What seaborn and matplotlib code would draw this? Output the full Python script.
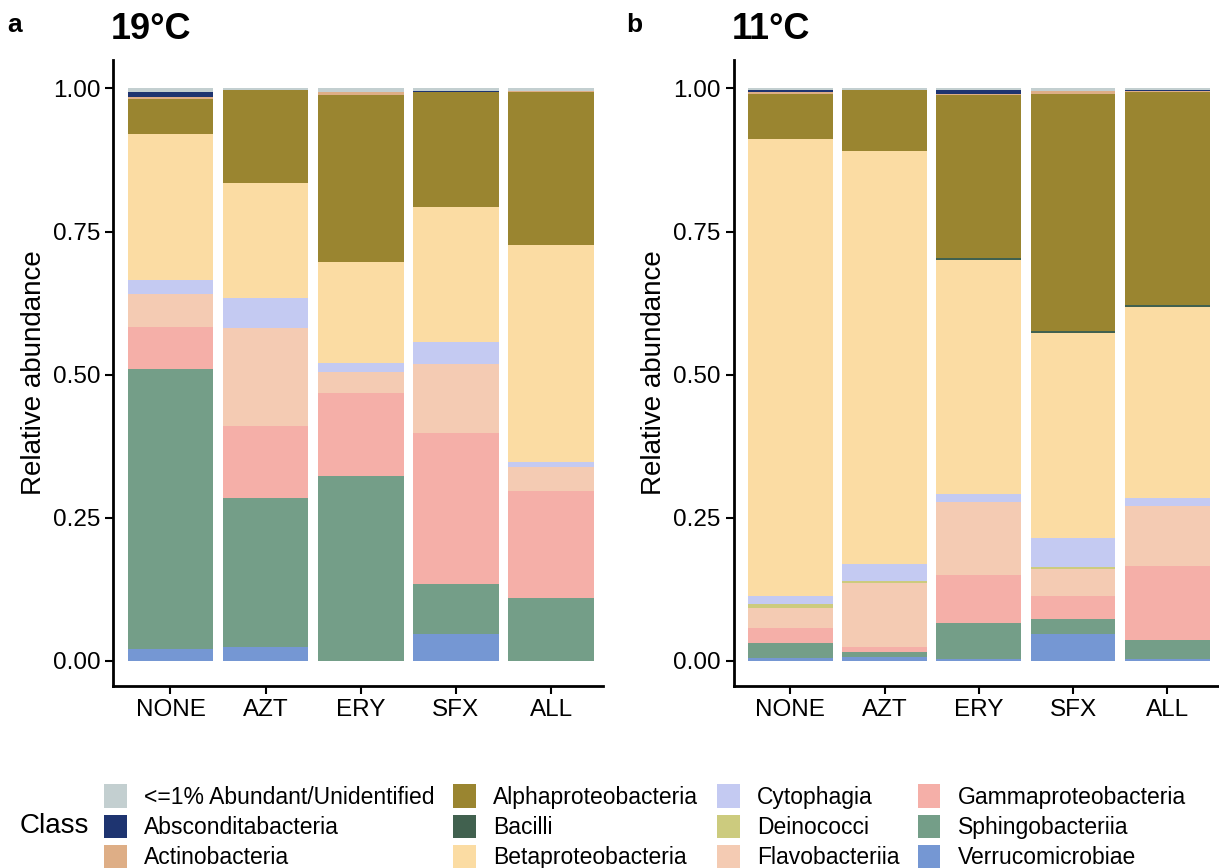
import matplotlib
matplotlib.use("Agg")
import matplotlib.pyplot as plt
from matplotlib.patches import Patch
import pandas as pd
import seaborn as sns

sns.set_theme(style="ticks")
plt.rcParams["font.family"] = ["Liberation Sans", "DejaVu Sans"]
plt.rcParams["text.color"] = "black"
plt.rcParams["axes.labelcolor"] = "black"

# treatments on the x axis
treatments = ["NONE", "AZT", "ERY", "SFX", "ALL"]

# classes, legend order (first one sits on top of each bar)
classes = ["<=1% Abundant/Unidentified", "Absconditabacteria", "Actinobacteria",
           "Alphaproteobacteria", "Bacilli", "Betaproteobacteria", "Cytophagia",
           "Deinococci", "Flavobacteriia", "Gammaproteobacteria", "Sphingobacteriia",
           "Verrucomicrobiae"]

class_colors = ["#C3CFD0", "#1E3470", "#DEAE86", "#9A8530", "#41614F", "#FBDCA3",
                "#C4CAF2", "#CCCB7E", "#F4CBB3", "#F5AFA8", "#749E88", "#7597D3"]

# relative abundance per class at 19°C (NONE, AZT, ERY, SFX, ALL)
warm_unident = [0.006, 0.003, 0.007, 0.004, 0.004]
warm_abscond = [0.009, 0.000, 0.000, 0.002, 0.000]
warm_actino = [0.003, 0.000, 0.005, 0.000, 0.003]
warm_alpha = [0.062, 0.162, 0.291, 0.202, 0.266]
warm_bacilli = [0.000, 0.000, 0.000, 0.000, 0.000]
warm_beta = [0.255, 0.202, 0.177, 0.236, 0.380]
warm_cyto = [0.024, 0.051, 0.015, 0.038, 0.009]
warm_deino = [0.000, 0.000, 0.000, 0.000, 0.000]
warm_flavo = [0.058, 0.172, 0.038, 0.121, 0.041]
warm_gamma = [0.073, 0.125, 0.145, 0.264, 0.187]
warm_sphingo = [0.489, 0.262, 0.322, 0.086, 0.110]
warm_verruco = [0.021, 0.023, 0.000, 0.047, 0.000]

# relative abundance per class at 11°C
cold_unident = [0.002, 0.002, 0.003, 0.004, 0.003]
cold_abscond = [0.005, 0.000, 0.006, 0.001, 0.002]
cold_actino = [0.002, 0.000, 0.003, 0.005, 0.002]
cold_alpha = [0.079, 0.108, 0.284, 0.414, 0.372]
cold_bacilli = [0.000, 0.000, 0.003, 0.003, 0.003]
cold_beta = [0.799, 0.722, 0.409, 0.358, 0.333]
cold_cyto = [0.015, 0.029, 0.015, 0.051, 0.015]
cold_deino = [0.007, 0.004, 0.000, 0.004, 0.000]
cold_flavo = [0.034, 0.112, 0.128, 0.048, 0.104]
cold_gamma = [0.026, 0.008, 0.084, 0.040, 0.130]
cold_sphingo = [0.026, 0.008, 0.063, 0.025, 0.033]
cold_verruco = [0.005, 0.007, 0.002, 0.047, 0.003]

warm = [warm_unident, warm_abscond, warm_actino, warm_alpha, warm_bacilli, warm_beta,
        warm_cyto, warm_deino, warm_flavo, warm_gamma, warm_sphingo, warm_verruco]
cold = [cold_unident, cold_abscond, cold_actino, cold_alpha, cold_bacilli, cold_beta,
        cold_cyto, cold_deino, cold_flavo, cold_gamma, cold_sphingo, cold_verruco]


def to_long(values):
    """long table with cumulative heights, stacked from the last class upwards"""
    rows = []
    for j, treat in enumerate(treatments):
        total = 0.0
        for i in range(len(classes) - 1, -1, -1):
            total += values[i][j]
            rows.append({"treatment": treat, "cls": classes[i], "top": total})
    return pd.DataFrame(rows)


def stacked_panel(ax, values, title):
    df = to_long(values)
    # draw the tallest cumulative layer first, smaller ones cover it
    for cls, col in zip(classes, class_colors):
        sub = df[df["cls"] == cls]
        sns.barplot(data=sub, x="treatment", y="top", order=treatments,
                    color=col, width=0.9, linewidth=0, saturation=1, ax=ax)

    ax.set_xlim(-0.6, 4.55)
    ax.set_ylim(-0.044, 1.05)
    ax.set_yticks([0, 0.25, 0.5, 0.75, 1.0])
    ax.set_yticklabels(["0.00", "0.25", "0.50", "0.75", "1.00"])
    ax.set_xlabel("")
    ax.set_ylabel("Relative abundance", fontsize=20)
    ax.tick_params(labelsize=17.5, width=1.5, length=6, colors="black")
    for side in ["left", "bottom"]:
        ax.spines[side].set_linewidth(2)
        ax.spines[side].set_color("black")
    sns.despine(ax=ax)
    ax.set_title(title, fontsize=26, fontweight="bold", loc="left", x=-0.005, y=1.02)


fig = plt.figure(figsize=(12.19, 8.68), dpi=100)
ax_a = fig.add_axes([0.093, 0.21, 0.402, 0.721])
ax_b = fig.add_axes([0.602, 0.21, 0.398, 0.721])

stacked_panel(ax_a, warm, "19°C")
stacked_panel(ax_b, cold, "11°C")

# panel letters
fig.text(0.006, 0.971, "a", fontsize=19, fontweight="bold", va="center")
fig.text(0.514, 0.971, "b", fontsize=19, fontweight="bold", va="center")

# legend along the bottom
handles = [Patch(facecolor=c, edgecolor="none") for c in class_colors]
fig.legend(handles, classes, ncol=4, loc="lower left", bbox_to_anchor=(0.078, -0.012),
           frameon=False, fontsize=16.5, handlelength=1.0, handleheight=1.2,
           labelspacing=0.25, columnspacing=0.8, handletextpad=0.75, borderaxespad=0)
fig.text(0.016, 0.048, "Class", fontsize=20, va="center")

fig.savefig("out.png", dpi=100)
plt.close(fig)
